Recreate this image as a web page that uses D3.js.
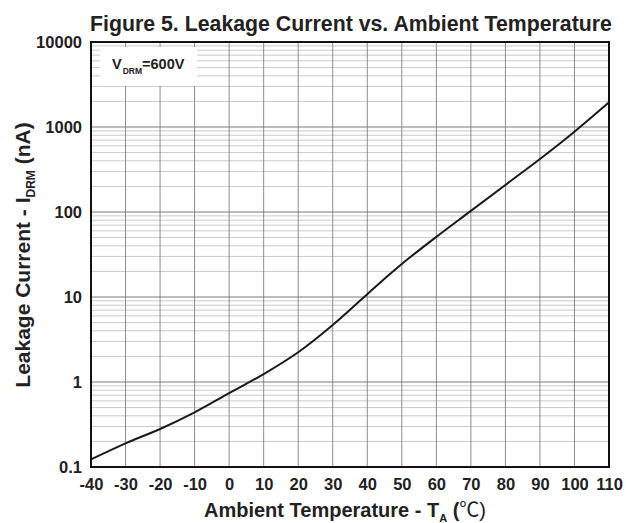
<!DOCTYPE html>
<html>
<head>
<meta charset="utf-8">
<script src="https://cdn.jsdelivr.net/npm/d3@7"></script>
<style>
  html, body { margin: 0; padding: 0; background: #fff; }
  svg { display: block; font-family: "Liberation Sans", Arial, sans-serif; }
</style>
</head>
<body>
<svg id="chart" width="626" height="523"></svg>
<script>
// ---- data ----
const temperatures = [-40, -30, -20, -10, 0, 10, 20, 30, 35, 40, 45, 50, 60, 70, 80, 90, 100, 110];
const leakageCurrent = [0.123, 0.19, 0.28, 0.44, 0.74, 1.24, 2.24, 4.69, 7.1, 10.8, 16.4, 24.5, 51, 103, 208, 420, 880, 1950];
const xTickValues = [-40, -30, -20, -10, 0, 10, 20, 30, 40, 50, 60, 70, 80, 90, 100, 110];
const yTickValues = [0.1, 1, 10, 100, 1000, 10000];
const yTickLabels = ["0.1", "1", "10", "100", "1000", "10000"];
const titleText = "Figure 5. Leakage Current vs. Ambient Temperature";

// ---- layout ----
const svg = d3.select("#chart");
const L = 91, R = 609, T = 42, B = 467;

const x = d3.scaleLinear().domain([-40, 110]).range([L, R]);
const y = d3.scaleLog().domain([0.1, 10000]).range([B, T]);

// minor log grid
const minorVals = [];
for (let d = 0.1; d < 10000; d *= 10) {
  for (let k = 2; k <= 9; k++) minorVals.push(+(d * k).toPrecision(3));
}
const g = svg.append("g");
g.selectAll("line.minor").data(minorVals).join("line")
  .attr("x1", L).attr("x2", R)
  .attr("y1", d => y(d)).attr("y2", d => y(d))
  .attr("stroke", "#cacaca").attr("stroke-width", 1);

// vertical grid
g.selectAll("line.v").data(xTickValues.slice(1, -1)).join("line")
  .attr("x1", d => x(d)).attr("x2", d => x(d))
  .attr("y1", T).attr("y2", B)
  .attr("stroke", "#8c8c8c").attr("stroke-width", 1);

// legend box (white) covering grid
svg.append("rect").attr("x", 100).attr("y", 47).attr("width", 97).attr("height", 39).attr("fill", "#fff");

// major horizontal grid
svg.append("g").selectAll("line").data(yTickValues.slice(1, -1)).join("line")
  .attr("x1", L).attr("x2", R)
  .attr("y1", d => y(d)).attr("y2", d => y(d))
  .attr("stroke", "#7a7a7a").attr("stroke-width", 1);

// curve
const line = d3.line()
  .x((d, i) => x(temperatures[i]))
  .y(d => y(d))
  .curve(d3.curveCatmullRom.alpha(0.5));
svg.append("path").datum(leakageCurrent)
  .attr("d", line)
  .attr("fill", "none").attr("stroke", "#1a1a1a").attr("stroke-width", 2);

// frame
svg.append("rect").attr("x", L).attr("y", T).attr("width", R - L).attr("height", B - T)
  .attr("fill", "none").attr("stroke", "#111").attr("stroke-width", 2);

// axes (labels only, through d3 axes)
const xAxis = d3.axisBottom(x).tickValues(xTickValues).tickFormat(d => String(d)).tickSize(0).tickPadding(11);
const xg = svg.append("g").attr("transform", `translate(0,${B})`).call(xAxis);
xg.select(".domain").remove();
xg.selectAll("text").attr("font-size", 16.5).attr("font-weight", "bold").attr("fill", "#222")
  .attr("font-family", "Liberation Sans, Arial, sans-serif");

const yAxis = d3.axisLeft(y).tickValues(yTickValues).tickFormat((d, i) => yTickLabels[i]).tickSize(0).tickPadding(9);
const yg = svg.append("g").attr("transform", `translate(${L},0)`).call(yAxis);
yg.select(".domain").remove();
yg.selectAll("text").attr("font-size", 16.5).attr("font-weight", "bold").attr("fill", "#222")
  .attr("font-family", "Liberation Sans, Arial, sans-serif");

// title
svg.append("text").attr("x", 351).attr("y", 31).attr("text-anchor", "middle")
  .attr("font-size", 21.3).attr("font-weight", "bold").attr("fill", "#222")
  .text(titleText);

// legend text
const lt = svg.append("text").attr("x", 112).attr("y", 69)
  .attr("font-size", 14.5).attr("font-weight", "bold").attr("fill", "#222");
lt.append("tspan").text("V");
lt.append("tspan").attr("font-size", 8.5).attr("dy", 5).attr("dx", 1).text("DRM");
lt.append("tspan").attr("dy", -5).text("=600V");

// x title
const xt = svg.append("text").attr("x", 345).attr("y", 517).attr("text-anchor", "middle")
  .attr("font-size", 20).attr("font-weight", "bold").attr("fill", "#222");
xt.append("tspan").text("Ambient Temperature - T");
xt.append("tspan").attr("font-size", 11).attr("dy", 5).text("A");
xt.append("tspan").attr("dy", -5).text(" (");
xt.append("tspan").attr("font-weight", "normal").attr("font-family", "Noto Sans CJK SC").text("℃");
xt.append("tspan").attr("font-weight", "normal").text(")");

// y title
const yt = svg.append("text").attr("transform", "translate(30,255) rotate(-90)").attr("text-anchor", "middle")
  .attr("font-size", 21).attr("font-weight", "bold").attr("fill", "#222");
yt.append("tspan").text("Leakage Current - I");
yt.append("tspan").attr("font-size", 12).attr("dy", 5).text("DRM");
yt.append("tspan").attr("dy", -5).text(" (nA)");
</script>
</body>
</html>
